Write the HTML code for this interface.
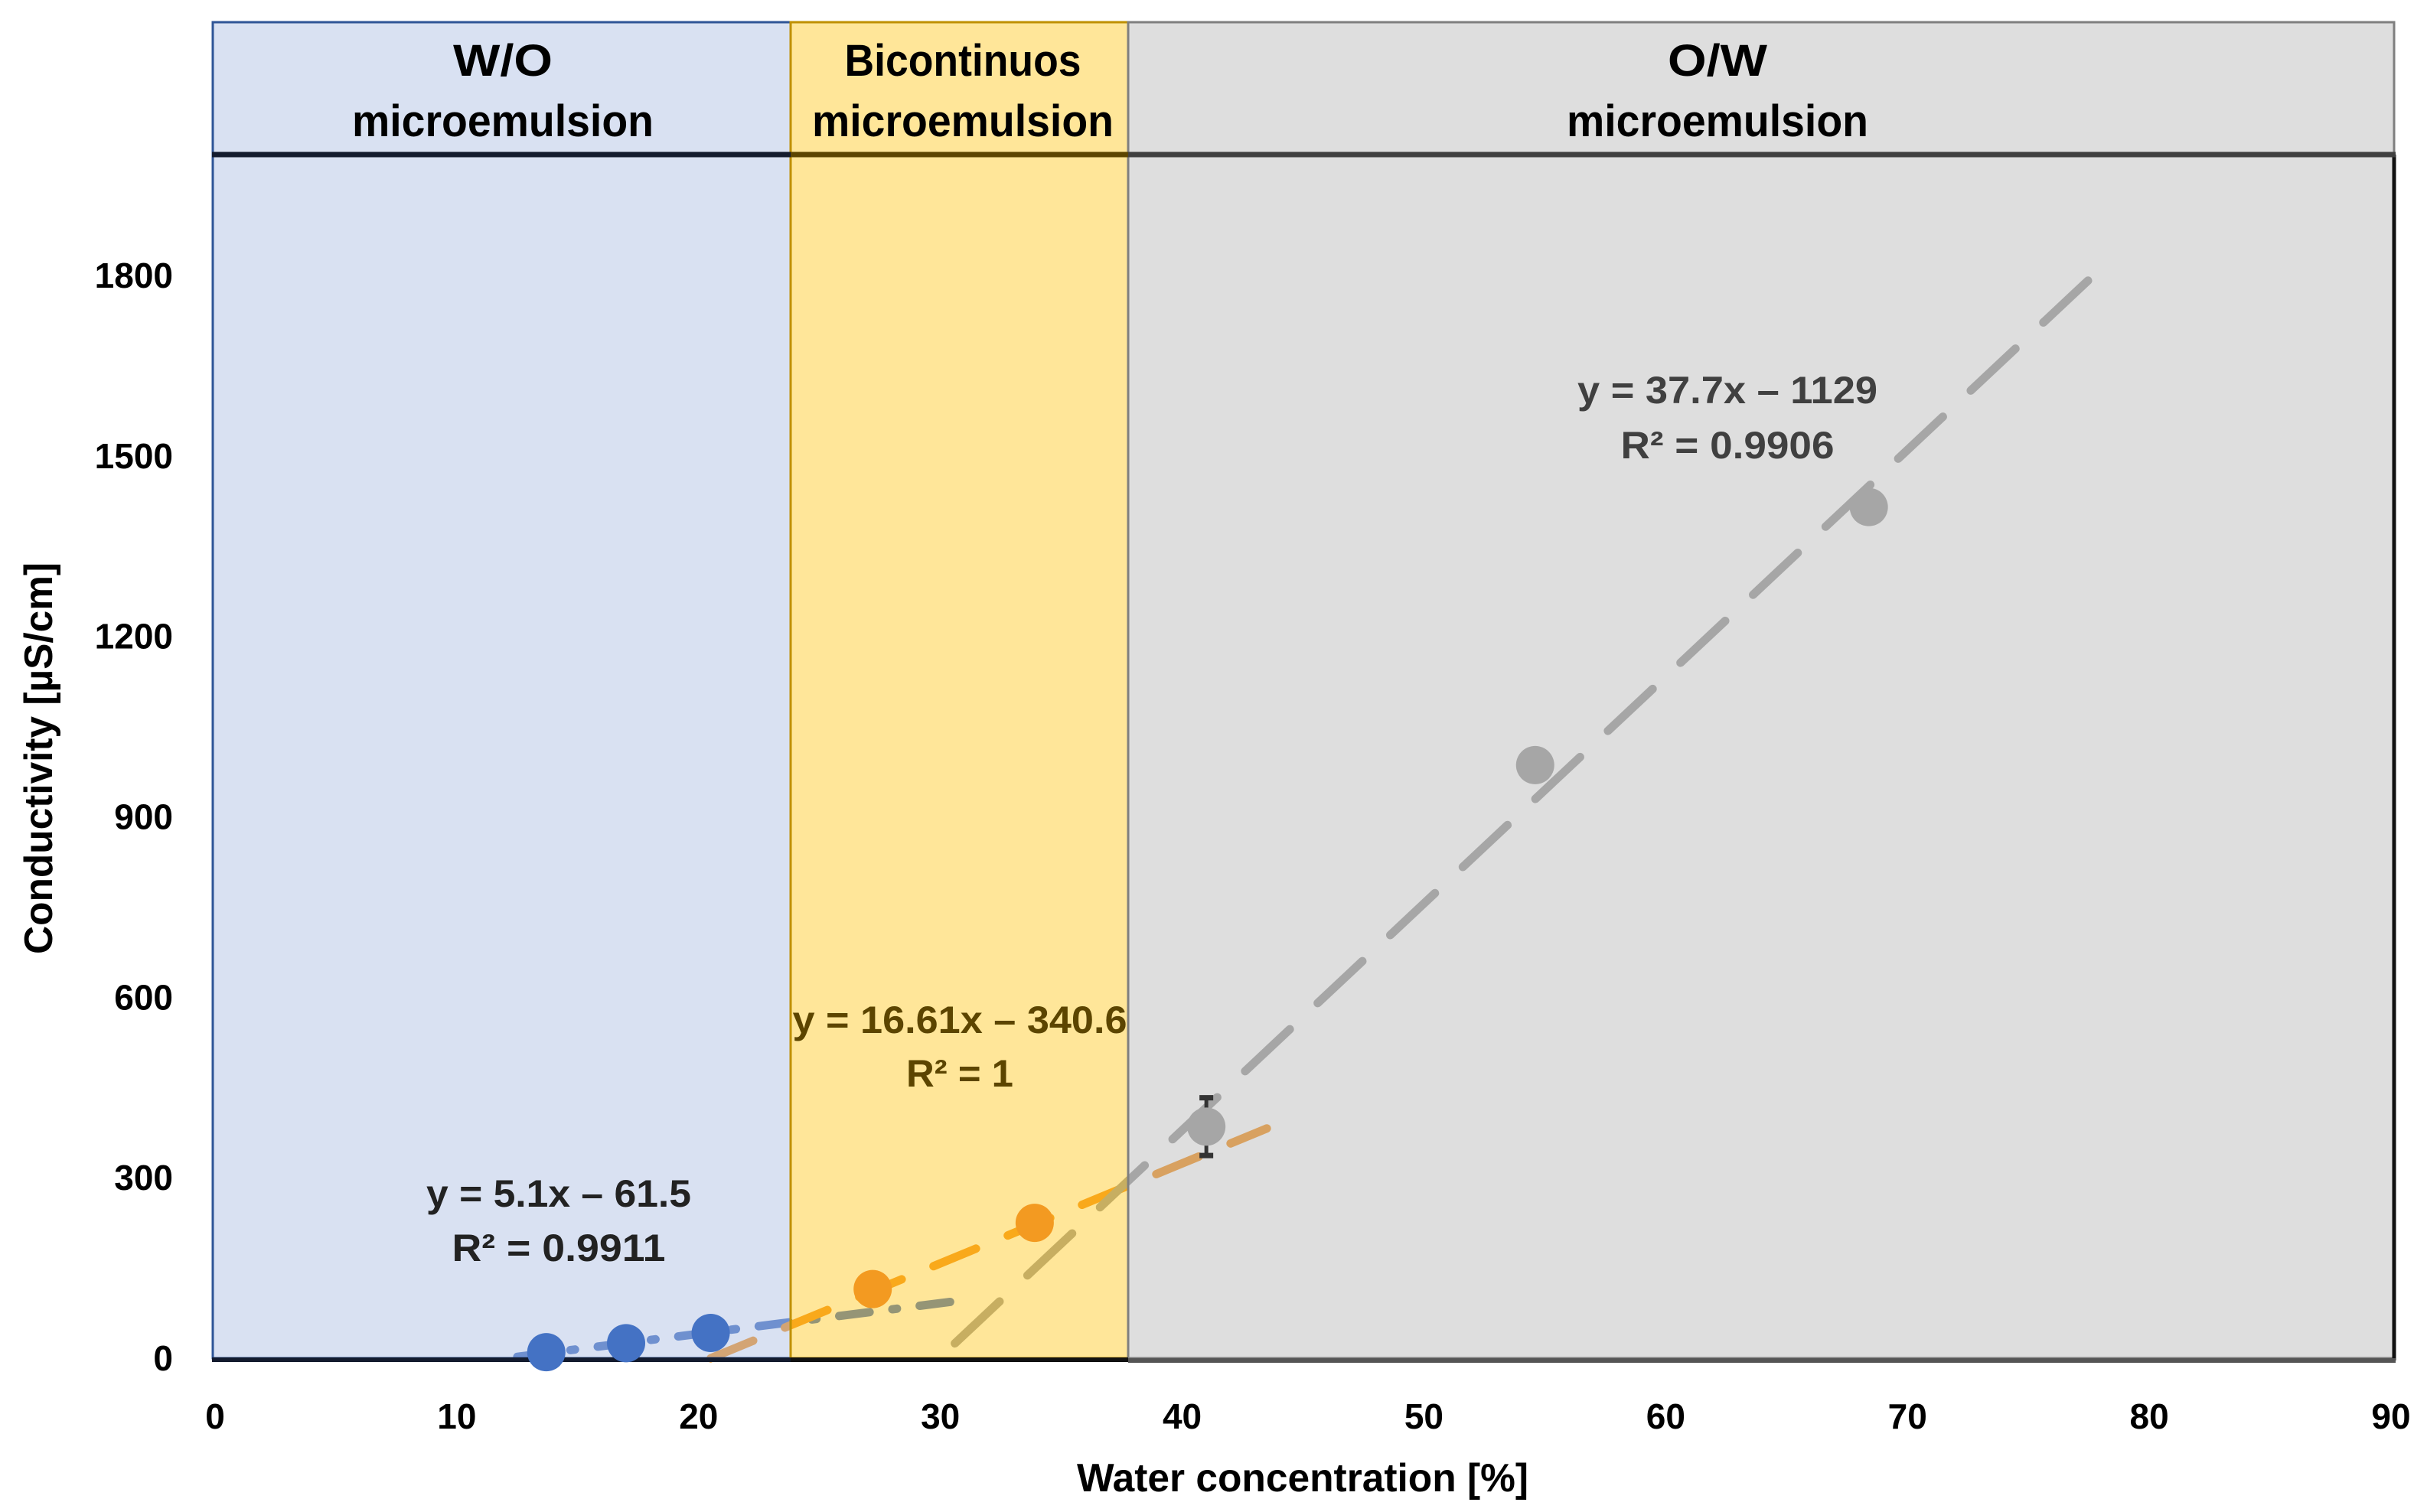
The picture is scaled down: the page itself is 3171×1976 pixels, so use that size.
<!DOCTYPE html>
<html><head><meta charset="utf-8"><style>
html,body{margin:0;padding:0;background:#fff;}
svg{display:block;}
text{font-family:"Liberation Sans Narrow","Liberation Sans",sans-serif;font-weight:bold;}
</style></head><body>
<svg id="chart" width="3171" height="1976" viewBox="0 0 3171 1976" xmlns="http://www.w3.org/2000/svg">
<g id="lines"></g>
<g id="regions">
  <rect x="277" y="28" width="756" height="1748" fill="rgb(170,188,226)" fill-opacity="0.45"/>
  <rect x="1033" y="28" width="441" height="1748" fill="rgb(255,200,28)" fill-opacity="0.45"/>
  <rect x="1474" y="28" width="1654" height="1748" fill="rgb(181,181,181)" fill-opacity="0.45"/>
  <rect x="278" y="29" width="755" height="1746" fill="none" stroke="#2F5597" stroke-width="3"/>
  <rect x="1033" y="29" width="441" height="1746" fill="none" stroke="#BF9000" stroke-width="3"/>
  <rect x="1474" y="29" width="1654" height="1746" fill="none" stroke="#7f7f7f" stroke-width="3"/>
  <line x1="3128" y1="202" x2="3128" y2="1778" stroke="#111" stroke-width="5"/>
  <line x1="277" y1="202" x2="1033" y2="202" stroke="#131B2E" stroke-width="7"/>
  <line x1="1033" y1="202" x2="1474" y2="202" stroke="#5C4500" stroke-width="7"/>
  <line x1="1474" y1="202" x2="3130" y2="202" stroke="#404040" stroke-width="7"/>
  <line x1="277" y1="1777" x2="1033" y2="1777" stroke="#131B2E" stroke-width="6"/>
  <line x1="1033" y1="1777" x2="1474" y2="1777" stroke="#111" stroke-width="6"/>
  <line x1="1474" y1="1778" x2="3130" y2="1778" stroke="#555" stroke-width="6"/>
</g>
<g id="headers">
  <text x="657" y="99" font-size="58" text-anchor="middle" textLength="130" lengthAdjust="spacingAndGlyphs">W/O</text>
  <text x="657" y="178" font-size="58" text-anchor="middle" textLength="394" lengthAdjust="spacingAndGlyphs">microemulsion</text>
  <text x="1258" y="99" font-size="58" text-anchor="middle" textLength="309" lengthAdjust="spacingAndGlyphs">Bicontinuos</text>
  <text x="1258" y="178" font-size="58" text-anchor="middle" textLength="394" lengthAdjust="spacingAndGlyphs">microemulsion</text>
  <text x="2244" y="99" font-size="58" text-anchor="middle" textLength="130" lengthAdjust="spacingAndGlyphs">O/W</text>
  <text x="2244" y="178" font-size="58" text-anchor="middle" textLength="394" lengthAdjust="spacingAndGlyphs">microemulsion</text>
</g>
<g id="points"></g>
<g id="axes"></g>
<g>
  <text x="730" y="1577" font-size="50" fill="#222" text-anchor="middle" textLength="346" lengthAdjust="spacingAndGlyphs">y = 5.1x – 61.5</text>
  <text x="730" y="1648" font-size="50" fill="#222" text-anchor="middle" textLength="279" lengthAdjust="spacingAndGlyphs">R² = 0.9911</text>
  <text x="1254" y="1350" font-size="50" fill="#5C4500" text-anchor="middle" textLength="437" lengthAdjust="spacingAndGlyphs">y = 16.61x – 340.6</text>
  <text x="1254" y="1420" font-size="50" fill="#5C4500" text-anchor="middle" textLength="140" lengthAdjust="spacingAndGlyphs">R² = 1</text>
  <text x="2257" y="527" font-size="50" fill="#404040" text-anchor="middle" textLength="392" lengthAdjust="spacingAndGlyphs">y = 37.7x – 1129</text>
  <text x="2257" y="599" font-size="50" fill="#404040" text-anchor="middle" textLength="279" lengthAdjust="spacingAndGlyphs">R² = 0.9906</text>
</g>
<text x="1702" y="1949" font-size="52" text-anchor="middle" textLength="590" lengthAdjust="spacingAndGlyphs">Water concentration [%]</text>
<text x="0" y="0" font-size="52" text-anchor="middle" textLength="512" lengthAdjust="spacingAndGlyphs" transform="translate(68,991) rotate(-90)">Conductivity [µS/cm]</text>
</svg>
<script>
const xTicks = [0,10,20,30,40,50,60,70,80,90];
const yTicks = [0,300,600,900,1200,1500,1800];
const woX = [13.7, 17.0, 20.5];
const woY = [10, 25, 42];
const biX = [27.2, 33.9];
const biY = [115, 225];
const owX = [41.0, 54.6, 68.4];
const owY = [385, 986, 1415];
const owErr = [48, 0, 0];
const woFit = [5.1, -61.5, 12.5, 31];
const biFit = [16.61, -340.6, 20.5, 43.5];
const owFit = [37.7, -1129, 30.6, 77.7];

const NS = 'http://www.w3.org/2000/svg';
const X0 = 281, XS = (3124-281)/90, Y0 = 1775, YS = (1775-360)/1800;
function sx(v){ return X0 + v*XS; }
function sy(v){ return Y0 - v*YS; }
function mk(tag, attrs, parent){
  const e = document.createElementNS(NS, tag);
  for (const k in attrs) e.setAttribute(k, attrs[k]);
  parent.appendChild(e); return e;
}
const lines = document.getElementById('lines');
const points = document.getElementById('points');
const axes = document.getElementById('axes');

function fit(f, color, dash, name){
  const l = mk('line', {x1:sx(f[2]), y1:sy(f[0]*f[2]+f[1]), x2:sx(f[3]), y2:sy(f[0]*f[3]+f[1]),
    stroke:color, 'stroke-width':11, 'stroke-dasharray':dash, 'stroke-linecap':'round'}, lines);
  
  
}
fit(woFit, '#3F6CC0', '40 30 6 30', 'wo-trendline');
fit(biFit, '#F4901A', '60 45', 'bicontinuous-trendline');
fit(owFit, '#9A9A9A', '80 50', 'ow-trendline');

function pts(xs, ys, color, name){
  xs.forEach((x,i)=>{
    const c = mk('ellipse', {cx:sx(x), cy:sy(ys[i]), rx:25, ry:25, fill:color}, points);
    
    
  });
}
owX.forEach((x,i)=>{
  if (owErr[i] > 0) {
    const g = mk('g', {stroke:'#333', 'stroke-width':5}, points);
    
    
    mk('line', {x1:sx(x), y1:sy(owY[i]+owErr[i]), x2:sx(x), y2:sy(owY[i]-owErr[i])}, g);
    mk('line', {x1:sx(x)-9, y1:sy(owY[i]+owErr[i]), x2:sx(x)+9, y2:sy(owY[i]+owErr[i]), 'stroke-width':7}, g);
    mk('line', {x1:sx(x)-9, y1:sy(owY[i]-owErr[i]), x2:sx(x)+9, y2:sy(owY[i]-owErr[i]), 'stroke-width':7}, g);
  }
});
pts(woX, woY, '#4472C4', 'wo-point');
pts(biX, biY, '#F39A21', 'bicontinuous-point');
pts(owX, owY, '#A6A6A6', 'ow-point');

xTicks.forEach(v=>{
  const t = mk('text', {x:sx(v), y:1867, 'font-size':46, 'text-anchor':'middle'}, axes);
  t.textContent = v;
  
  
});
yTicks.forEach(v=>{
  const t = mk('text', {x:226, y:sy(v)+16, 'font-size':46, 'text-anchor':'end'}, axes);
  t.textContent = v;
  
  
});
</script>
</body></html>
